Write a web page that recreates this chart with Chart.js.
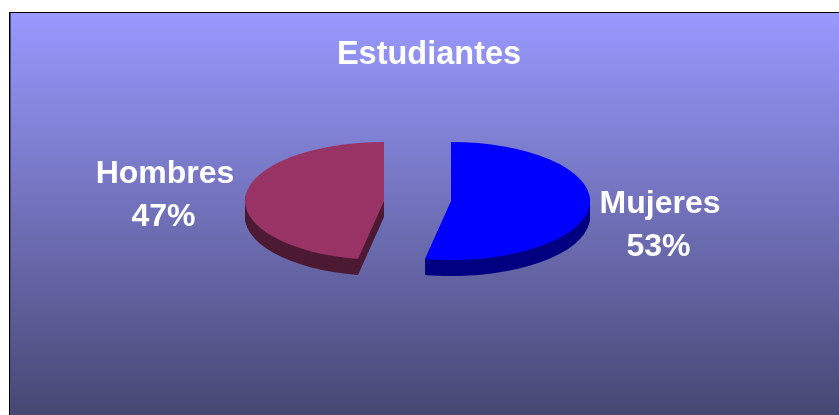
<!DOCTYPE html>
<html>
<head>
<meta charset="utf-8">
<title>Estudiantes</title>
<script src="https://cdn.jsdelivr.net/npm/chart.js@4/dist/chart.umd.min.js"></script>
<style>
  html, body { margin: 0; padding: 0; background: #fff; overflow: hidden; }
  #chart-wrap { position: absolute; left: 0; top: 0; width: 839px; height: 415px; }
</style>
</head>
<body>
<div id="chart-wrap"><canvas id="chart" width="839" height="415"></canvas></div>
<script>
// --- Data ---
const categories = ['Mujeres', 'Hombres'];
const percents = [53, 47];
const topColors = ['#0000ff', '#993366'];
const sideColors = ['#000080', '#4d1a33'];

// --- Look of the fake 3D pie ---
const PIE_X = 417.5;      // middle between the two slices
const PIE_Y = 201;
const SQUASH = 0.425;     // vertical flattening
const EXPLODE = 33.5;     // gap from the middle, sideways
const DEPTH = 16;         // height of the pie edge
const labelSpots = [[660, 204.5], [165, 174.5]];
const labelLineGap = 43;

const panel = {
  id: 'panel',
  beforeDraw(chart) {
    const { ctx, width, height } = chart;
    const grad = ctx.createLinearGradient(0, 13, 0, height);
    grad.addColorStop(0, '#9999ff');
    grad.addColorStop(1, '#474773');
    ctx.save();
    ctx.fillStyle = grad;
    ctx.fillRect(10, 13, width - 10, height - 13);
    ctx.fillStyle = '#4a4a8c';
    ctx.fillRect(10, 13, 1, height - 13);
    ctx.fillStyle = '#000';
    ctx.fillRect(9, 12, width - 9, 1);
    ctx.fillRect(9, 12, 1, height - 12);
    ctx.restore();
  }
};

function drawSlice(chart, arc, color, drop) {
  const ctx = chart.ctx;
  const half = (arc.startAngle + arc.endAngle) / 2;
  const side = Math.cos(half) >= 0 ? 1 : -1;
  const saved = arc.options;
  arc.options = Object.assign({}, saved, { backgroundColor: color });
  ctx.save();
  ctx.translate(PIE_X + side * EXPLODE, PIE_Y + drop);
  ctx.scale(1, SQUASH);
  ctx.translate(-arc.x, -arc.y);
  arc.draw(ctx);
  ctx.restore();
  arc.options = saved;
}

const pie3d = {
  id: 'pie3d',
  beforeDatasetsDraw(chart) {
    const arcs = chart.getDatasetMeta(0).data;
    arcs.forEach((arc, i) => {
      for (let d = DEPTH; d > 0; d--) drawSlice(chart, arc, sideColors[i], d);
      drawSlice(chart, arc, topColors[i], 0);
    });
    return false; // already drawn
  },
  afterDraw(chart) {
    const ctx = chart.ctx;
    ctx.save();
    ctx.fillStyle = '#fff';
    ctx.font = 'bold 32px "Liberation Sans", Arial, sans-serif';
    ctx.textAlign = 'center';
    ctx.textBaseline = 'middle';
    categories.forEach((name, i) => {
      const [x, y] = labelSpots[i];
      ctx.fillText(name, x, y);
      ctx.fillText(percents[i] + '%', x - 1.5, y + labelLineGap);
    });
    ctx.restore();
  }
};

new Chart(document.getElementById('chart'), {
  type: 'pie',
  data: {
    labels: categories,
    datasets: [{
      data: percents,
      backgroundColor: topColors,
      borderWidth: 0,
      radius: 139
    }]
  },
  options: {
    responsive: false,
    animation: false,
    layout: { padding: { left: 19, top: 36 } },
    plugins: {
      legend: { display: false },
      tooltip: { enabled: false },
      title: {
        display: true,
        text: 'Estudiantes',
        color: '#fff',
        font: { family: '"Liberation Sans", Arial, sans-serif', size: 32.5, weight: 'bold' },
        padding: 0
      }
    }
  },
  plugins: [panel, pie3d]
});
</script>
</body>
</html>
